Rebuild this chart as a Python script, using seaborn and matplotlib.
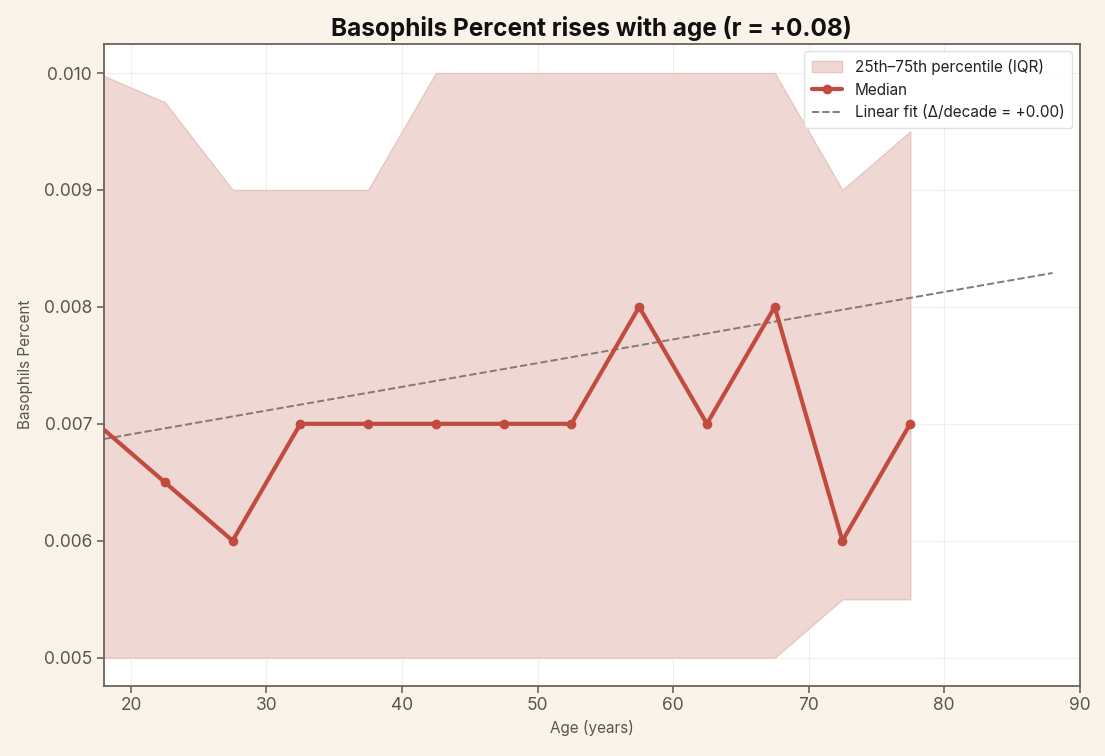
import matplotlib
matplotlib.use("Agg")
import matplotlib.pyplot as plt
import seaborn as sns
import pandas as pd

# age bins (midpoints) and the per-bin stats
ages = [17.5, 22.5, 27.5, 32.5, 37.5, 42.5, 47.5, 52.5, 57.5, 62.5, 67.5, 72.5, 77.5]
median = [0.007, 0.0065, 0.006, 0.007, 0.007, 0.007, 0.007, 0.007, 0.008, 0.007, 0.008, 0.006, 0.007]
q25 = [0.005, 0.005, 0.005, 0.005, 0.005, 0.005, 0.005, 0.005, 0.005, 0.005, 0.005, 0.0055, 0.0055]
q75 = [0.010, 0.00975, 0.009, 0.009, 0.009, 0.010, 0.010, 0.010, 0.010, 0.010, 0.010, 0.009, 0.0095]

# linear fit endpoints
fit_x = [18, 88]
fit_y = [0.00687, 0.00829]

bg = "#FAF3E9"
edge = "#6E625C"
red = "#C24B3F"

sns.set_theme(style="white")
plt.rcParams["font.family"] = ["Inter", "DejaVu Sans"]

df = pd.DataFrame({"age": ages, "median": median})
fit = pd.DataFrame({"age": fit_x, "y": fit_y})

fig, ax = plt.subplots(figsize=(11.05, 7.56), dpi=100)
fig.patch.set_facecolor(bg)
ax.set_facecolor("white")
ax.set_axisbelow(True)
ax.grid(True, color="#F3EEE6", linewidth=0.8, zorder=0)

# opaque fill so the grid does not show through
ax.fill_between(ages, q25, q75, facecolor="#EFD7D3", edgecolor="#E6C6C1",
                linewidth=1, zorder=1, label="25th\u201375th percentile (IQR)")
sns.lineplot(data=df, x="age", y="median", ax=ax, color=red, linewidth=3,
             marker="o", markersize=7, markeredgewidth=0, label="Median", zorder=3)
sns.lineplot(data=fit, x="age", y="y", ax=ax, color="#857878", linewidth=1.4,
             linestyle="--", label="Linear fit (\u0394/decade = +0.00)", zorder=2)

ax.set_xlim(18, 90)
ax.set_ylim(0.00476, 0.01025)
ax.set_yticks([0.005, 0.006, 0.007, 0.008, 0.009, 0.010])
ax.set_yticklabels(["0.005", "0.006", "0.007", "0.008", "0.009", "0.010"])

for s in ax.spines.values():
    s.set_color(edge)
    s.set_linewidth(1.3)
ax.tick_params(axis="both", colors=edge, labelsize=12.5, length=5, width=1.2,
               bottom=True, left=True, labelcolor="#5E544F")

ax.set_title("Basophils Percent rises with age (r = +0.08)", fontsize=17.5,
             fontweight="bold", color="#111111", pad=6)
ax.set_xlabel("Age (years)", fontsize=11, color="#5E544F")
ax.set_ylabel("Basophils Percent", fontsize=11, color="#5E544F", labelpad=8)

leg = ax.legend(loc="upper right", fontsize=11, frameon=True, framealpha=0.9,
                edgecolor="#DDDDDD", fancybox=True, borderpad=0.5)
for t in leg.get_texts():
    t.set_color("#222222")

plt.subplots_adjust(left=0.094, right=0.977, top=0.942, bottom=0.093)
plt.savefig("out.png", dpi=100, facecolor=bg)
